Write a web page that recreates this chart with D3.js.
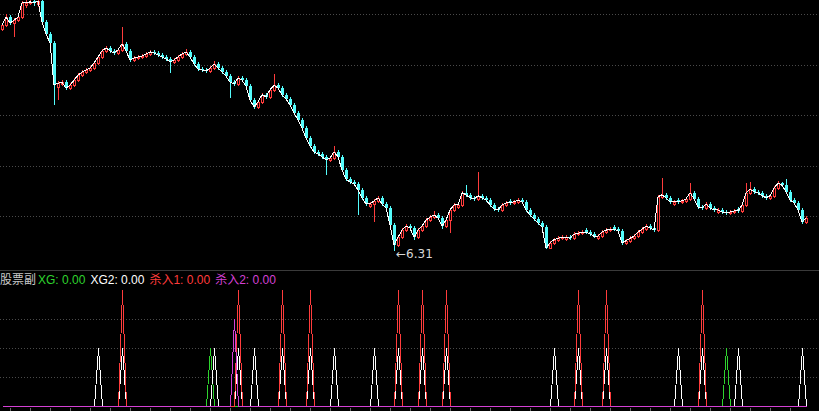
<!DOCTYPE html>
<html><head><meta charset="utf-8">
<script src="https://cdn.jsdelivr.net/npm/d3@7"></script>
<style>html,body{margin:0;padding:0;background:#000;overflow:hidden}svg{display:block}</style>
</head><body>
<svg id="c" width="819" height="411"></svg>
<script>
// ---- data ----
const open = [10.70,10.78,10.94,10.82,10.88,10.94,11.18,11.22,11.26,11.20,
11.26,10.84,10.60,10.43,9.55,9.61,9.65,9.53,9.59,9.69,
9.79,9.85,9.89,9.93,10.03,10.15,10.27,10.33,10.27,10.23,
10.29,10.41,10.27,10.09,10.13,10.15,10.17,10.21,10.25,10.23,
10.19,10.15,10.11,10.05,10.09,10.15,10.21,10.25,10.15,10.01,
9.91,9.89,9.87,9.93,10.01,9.93,9.85,9.77,9.65,9.61,
9.73,9.69,9.57,9.30,9.16,9.26,9.40,9.36,9.50,9.59,
9.53,9.40,9.32,9.20,9.04,8.90,8.74,8.54,8.39,8.27,
8.23,8.17,8.11,8.15,8.27,8.17,7.91,7.73,7.67,7.63,
7.52,7.36,7.20,7.24,7.30,7.36,7.24,7.16,6.82,6.43,
6.58,6.72,6.80,6.76,6.58,6.72,6.80,6.92,6.98,7.02,
6.96,6.80,6.92,7.12,7.18,7.22,7.46,7.42,7.36,7.34,
7.40,7.36,7.32,7.22,7.14,7.12,7.22,7.30,7.26,7.28,
7.32,7.28,7.12,7.02,6.94,6.86,6.78,6.36,6.47,6.53,
6.56,6.54,6.58,6.56,6.64,6.66,6.72,6.68,6.64,6.56,
6.60,6.68,6.72,6.78,6.74,6.70,6.47,6.51,6.56,6.60,
6.68,6.74,6.80,6.76,6.72,7.38,7.42,7.36,7.24,7.32,
7.28,7.30,7.34,7.46,7.34,7.18,7.16,7.24,7.16,7.08,
7.12,7.08,7.06,7.08,7.14,7.10,7.22,7.46,7.53,7.48,
7.46,7.40,7.36,7.40,7.55,7.65,7.61,7.48,7.32,7.26,
7.12,6.88];
const close = [10.78,10.94,10.82,10.88,10.94,11.22,11.22,11.24,11.22,11.26,
10.84,10.60,10.43,9.59,9.63,9.65,9.53,9.59,9.69,9.79,
9.85,9.89,9.93,10.03,10.15,10.27,10.33,10.27,10.23,10.29,
10.41,10.27,10.09,10.13,10.15,10.17,10.21,10.25,10.23,10.19,
10.15,10.11,10.05,10.09,10.15,10.21,10.25,10.15,10.01,9.91,
9.89,9.87,9.93,10.01,9.93,9.85,9.77,9.65,9.61,9.73,
9.69,9.57,9.30,9.16,9.26,9.40,9.36,9.50,9.59,9.53,
9.40,9.32,9.20,9.04,8.90,8.74,8.54,8.39,8.27,8.23,
8.17,8.11,8.15,8.27,8.17,7.91,7.73,7.67,7.63,7.52,
7.36,7.24,7.24,7.30,7.36,7.24,7.16,6.82,6.43,6.58,
6.72,6.80,6.76,6.58,6.72,6.80,6.92,6.98,7.02,6.96,
6.80,6.92,7.12,7.22,7.22,7.46,7.42,7.36,7.34,7.40,
7.36,7.32,7.22,7.14,7.12,7.22,7.26,7.26,7.28,7.32,
7.28,7.12,7.02,6.94,6.86,6.78,6.36,6.47,6.53,6.56,
6.58,6.58,6.56,6.64,6.66,6.68,6.68,6.64,6.60,6.60,
6.68,6.72,6.74,6.74,6.70,6.47,6.51,6.56,6.60,6.68,
6.74,6.80,6.76,6.72,7.38,7.42,7.36,7.28,7.28,7.28,
7.30,7.34,7.46,7.34,7.18,7.16,7.24,7.16,7.12,7.12,
7.08,7.06,7.08,7.10,7.10,7.22,7.46,7.53,7.48,7.46,
7.40,7.36,7.40,7.55,7.65,7.61,7.48,7.32,7.26,7.12,
6.88,6.96];
const high = [10.82,11.00,10.98,10.92,10.98,11.26,11.28,11.30,11.30,11.30,
11.30,10.88,10.64,10.47,9.67,9.69,9.69,9.63,9.73,9.83,
9.89,9.93,9.97,10.07,10.19,10.31,10.37,10.37,10.31,10.33,
10.74,10.45,10.31,10.17,10.19,10.21,10.25,10.29,10.29,10.27,
10.23,10.19,10.15,10.13,10.19,10.25,10.31,10.29,10.19,10.05,
9.95,9.93,9.97,10.07,10.05,9.97,9.89,9.81,9.69,9.77,
9.77,9.73,9.61,9.34,9.30,9.44,9.44,9.54,9.81,9.63,
9.57,9.44,9.36,9.24,9.08,8.94,8.78,8.58,8.43,8.31,
8.27,8.21,8.19,8.39,8.31,8.21,7.95,7.77,7.71,7.67,
7.56,7.40,7.28,7.34,7.40,7.40,7.28,7.20,6.86,6.62,
6.76,6.84,6.84,6.80,6.76,6.84,6.96,7.02,7.10,7.06,
7.00,6.96,7.16,7.26,7.26,7.50,7.61,7.46,7.40,7.87,
7.44,7.40,7.36,7.26,7.18,7.26,7.30,7.34,7.32,7.36,
7.36,7.32,7.16,7.06,6.98,6.90,6.82,6.51,6.57,6.60,
6.62,6.62,6.62,6.68,6.70,6.72,6.76,6.72,6.68,6.64,
6.72,6.76,6.78,6.82,6.78,6.74,6.55,6.60,6.64,6.72,
6.78,6.84,6.84,6.80,7.42,7.75,7.46,7.40,7.32,7.36,
7.34,7.38,7.65,7.50,7.38,7.22,7.28,7.28,7.20,7.16,
7.16,7.12,7.12,7.14,7.18,7.26,7.65,7.67,7.57,7.52,
7.50,7.44,7.44,7.59,7.69,7.67,7.73,7.52,7.36,7.30,
7.16,7.00];
const low = [10.66,10.74,10.78,10.54,10.84,10.90,11.12,11.18,11.16,11.14,
10.80,10.56,10.39,9.20,9.30,9.57,9.49,9.49,9.55,9.65,
9.75,9.81,9.85,9.89,9.99,10.11,10.23,10.23,10.19,10.19,
10.25,10.23,10.05,10.05,10.09,10.11,10.13,10.17,10.19,10.15,
10.11,10.07,9.83,10.01,10.05,10.11,10.17,10.11,9.97,9.87,
9.85,9.83,9.83,9.89,9.89,9.81,9.73,9.34,9.57,9.57,
9.65,9.53,9.26,9.12,9.12,9.22,9.32,9.32,9.46,9.49,
9.36,9.28,9.16,9.00,8.86,8.70,8.50,8.35,8.23,8.19,
8.13,7.81,8.07,8.11,8.13,7.87,7.69,7.63,7.59,7.02,
7.32,7.20,7.16,6.88,7.26,7.20,7.12,6.78,6.31,6.39,
6.54,6.68,6.72,6.52,6.54,6.68,6.76,6.88,6.94,6.92,
6.74,6.76,6.66,7.08,7.14,7.18,7.38,7.32,7.30,7.30,
7.32,7.28,7.18,7.10,7.08,7.08,7.18,7.22,7.22,7.24,
7.24,7.08,6.98,6.90,6.82,6.74,6.34,6.34,6.43,6.49,
6.52,6.50,6.52,6.52,6.60,6.62,6.64,6.60,6.56,6.52,
6.56,6.64,6.68,6.70,6.66,6.43,6.43,6.47,6.52,6.56,
6.64,6.70,6.72,6.68,6.68,7.34,7.32,7.24,7.20,7.24,
7.24,7.26,7.30,7.30,7.14,7.12,7.12,7.12,7.08,7.04,
7.04,7.02,7.02,7.04,7.06,7.06,7.18,7.42,7.44,7.42,
7.36,7.32,7.32,7.36,7.51,7.57,7.44,7.28,7.22,7.08,
6.84,6.84];

// indicator signal bars (bar index) and their values
const xgBars   = [52, 181];                 // XG   = 2 (green)
const xg2Bars  = [24, 30, 53, 59, 63, 70, 77, 83, 93, 99, 105, 111, 138, 144, 151, 169, 175, 184, 200]; // XG2 = 2 (white)
const sr1Bars  = [30, 59, 70, 77, 99, 105, 111, 144, 151, 175]; // 杀入1 = 4 (red)
const sr2Bars  = [58];                      // 杀入2 = 3 (magenta)
const signalValues = {XG: 2, XG2: 2, SR1: 4, SR2: 3};

const priceGrid = [7, 8, 9, 10, 11];
const indGrid = [1, 2, 3];
const panelTitle = "股票副";
const legendNames = ["XG", "XG2", "杀入1", "杀入2"];
const legendValues = [0, 0, 0, 0];
const lowLabel = 6.31;

// ---- colors ----
const RED = "#ff3c3c", CYAN = "#54fcfc", GREEN = "#2ed42e", MAG = "#d440d4", WHITE = "#ffffff";

const svg = d3.select("#c");
const N = close.length;
const x = d3.scaleLinear().domain([0, N - 1]).range([2, 806]);
const yP = d3.scaleLinear().domain([7, 11]).range([216, 14]);
const yI = d3.scaleLinear().domain([0, 4]).range([406, 290]);

// top panel clip
svg.append("clipPath").attr("id", "top").append("rect").attr("x", 0).attr("y", 0).attr("width", 819).attr("height", 268);

// grid lines
svg.append("g").selectAll("line").data(priceGrid).join("line")
  .attr("x1", 0).attr("x2", 819)
  .attr("y1", d => Math.round(yP(d)) + 0.5).attr("y2", d => Math.round(yP(d)) + 0.5)
  .attr("stroke", "#4a4a4a").attr("stroke-dasharray", "1,2");
svg.append("g").selectAll("line").data(indGrid).join("line")
  .attr("x1", 0).attr("x2", 819)
  .attr("y1", d => Math.round(yI(d)) + 0.5).attr("y2", d => Math.round(yI(d)) + 0.5)
  .attr("stroke", "#4a4a4a").attr("stroke-dasharray", "1,2");

// separator
svg.append("line").attr("x1", 0).attr("x2", 819).attr("y1", 270.5).attr("y2", 270.5)
  .attr("stroke", "#3a3a3a");

// candles
const gC = svg.append("g").attr("clip-path", "url(#top)").attr("shape-rendering", "crispEdges");
const bars = d3.range(N);
const cx = i => Math.round(x(i));
gC.selectAll("line.w").data(bars).join("line").attr("class", "w")
  .attr("x1", i => cx(i) + 0.5).attr("x2", i => cx(i) + 0.5)
  .attr("y1", i => yP(high[i])).attr("y2", i => yP(low[i]))
  .attr("stroke", i => close[i] >= open[i] ? RED : CYAN);
gC.selectAll("rect.b").data(bars).join("rect").attr("class", "b")
  .each(function (i) {
    const up = close[i] >= open[i];
    const t = Math.round(yP(Math.max(open[i], close[i])));
    const b = Math.round(yP(Math.min(open[i], close[i])));
    const s = d3.select(this);
    if (up) {
      s.attr("x", cx(i) - 1 + 0.5).attr("width", 2)
        .attr("y", t + 0.5).attr("height", Math.max(0, b - t))
        .attr("fill", "#000").attr("stroke", RED);
    } else {
      s.attr("x", cx(i) - 1).attr("width", 3)
        .attr("y", t).attr("height", Math.max(1, b - t))
        .attr("fill", CYAN);
    }
  });

// white close line
gC.append("path").datum(bars)
  .attr("d", d3.line().x(i => x(i)).y(i => yP(close[i])))
  .attr("fill", "none").attr("stroke", WHITE).attr("stroke-width", 1);

// low annotation
const minIdx = d3.minIndex(low);
svg.append("text").attr("x", cx(minIdx) + 2).attr("y", yP(low[minIdx]) + 7)
  .attr("fill", "#d8d8d8").attr("font-family", "DejaVu Sans, Liberation Sans, sans-serif")
  .attr("font-size", 12).text("←" + lowLabel.toFixed(2));

// indicator series lines
function seriesOf(barsArr, v) {
  const set = new Set(barsArr);
  return bars.map(i => set.has(i) ? v : 0);
}
const series = [
  {vals: seriesOf(xgBars, signalValues.XG), color: GREEN},
  {vals: seriesOf(xg2Bars, signalValues.XG2), color: WHITE},
  {vals: seriesOf(sr1Bars, signalValues.SR1), color: RED},
  {vals: seriesOf(sr2Bars, signalValues.SR2), color: MAG}
];
const gI = svg.append("g").attr("shape-rendering", "crispEdges");
series.forEach(s => {
  gI.append("path").datum(bars)
    .attr("d", d3.line().x(i => cx(i) + 0.5).y(i => Math.round(yI(s.vals[i])) + 0.5))
    .attr("fill", "none").attr("stroke", s.color).attr("stroke-width", 1);
});

// bottom ticks
svg.append("g").selectAll("line").data(bars.filter(i => i % 5 === 2)).join("line")
  .attr("x1", i => cx(i) + 0.5).attr("x2", i => cx(i) + 0.5)
  .attr("y1", 408).attr("y2", 411).attr("stroke", "#6a6a6a");

// legend
const font = "Liberation Sans, Arial, Noto Sans CJK SC, sans-serif";
const lg = svg.append("g").attr("font-family", font).attr("font-size", 12);
lg.append("text").attr("x", 0).attr("y", 284).attr("fill", "#c8c8c8")
  .attr("font-family", "Noto Sans CJK SC, sans-serif").text(panelTitle);
const legColors = [GREEN, WHITE, RED, MAG];
let lx = 38;
legendNames.forEach((n, k) => {
  const t = lg.append("text").attr("x", lx).attr("y", 284).attr("fill", legColors[k])
    .text(n + ": " + legendValues[k].toFixed(2));
  lx += t.node().getComputedTextLength() + 5;
});
</script>
</body></html>
